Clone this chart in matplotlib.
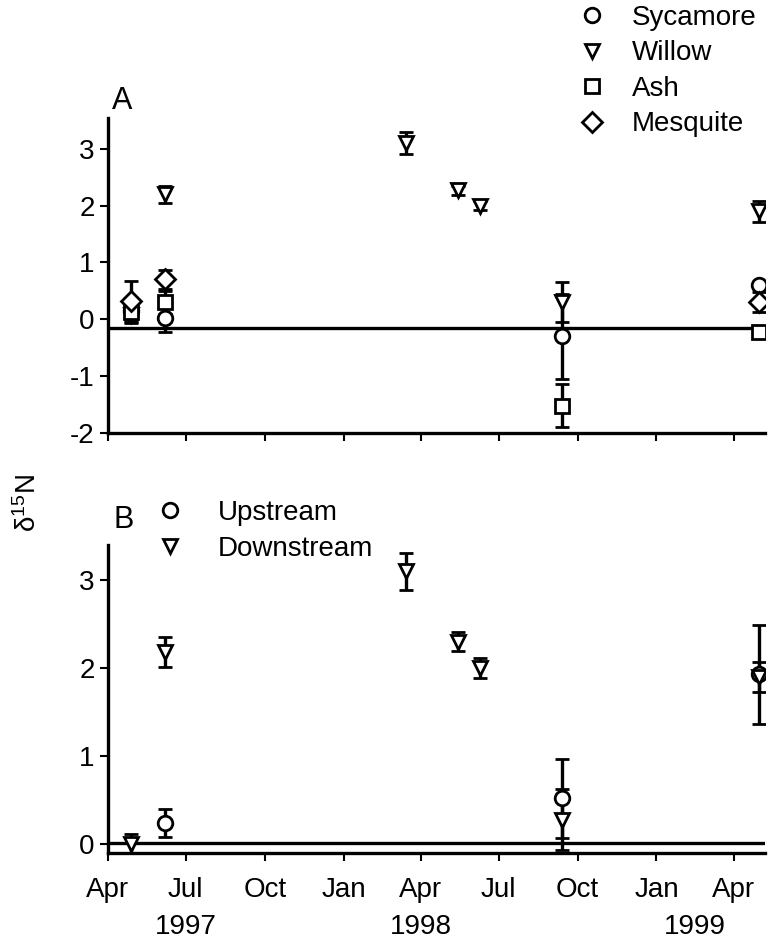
import numpy as np
import matplotlib
matplotlib.use('Agg')
import matplotlib.pyplot as plt
from matplotlib.lines import Line2D
from matplotlib.transforms import blended_transform_factory

plt.rcParams['font.family'] = ['Liberation Sans', 'DejaVu Sans']
plt.rcParams['mathtext.default'] = 'regular'
plt.rcParams['axes.unicode_minus'] = False

# sampling dates
dates = np.array(['1997-04-28', '1997-06-07', '1998-03-15', '1998-05-14',
                  '1998-06-09', '1998-09-13', '1999-04-30'], dtype='datetime64[D]')

# panel A: species
syc_idx = [0, 1, 5, 6]
syc_val = [0.15, 0.03, -0.30, 0.60]
syc_err = [0.20, 0.26, 0.75, 0.05]

wil_idx = [0, 1, 2, 3, 4, 5, 6]
wil_val = [0.08, 2.20, 3.10, 2.27, 2.00, 0.30, 1.90]
wil_err = [0.15, 0.15, 0.19, 0.08, 0.08, 0.35, 0.18]

ash_idx = [0, 1, 5, 6]
ash_val = [0.12, 0.30, -1.52, -0.22]
ash_err = [0.10, 0.20, 0.38, 0.10]

mes_idx = [0, 1, 6]
mes_val = [0.33, 0.70, 0.30]
mes_err = [0.35, 0.17, 0.18]

ref_a = -0.15

# panel B: stream position
up_idx = [1, 5, 6]
up_val = [0.24, 0.52, 1.93]
up_err = [0.16, 0.45, 0.56]

dn_idx = [0, 1, 2, 3, 4, 5, 6]
dn_val = [0.00, 2.18, 3.10, 2.30, 2.00, 0.28, 1.90]
dn_err = [0.12, 0.17, 0.21, 0.11, 0.11, 0.35, 0.17]

ref_b = 0.01

month_ticks = np.array(['1997-04-01', '1997-07-01', '1997-10-01', '1998-01-01', '1998-04-01',
                        '1998-07-01', '1998-10-01', '1999-01-01', '1999-04-01'], dtype='datetime64[D]')
month_labels = ['Apr', 'Jul', 'Oct', 'Jan', 'Apr', 'Jul', 'Oct', 'Jan', 'Apr']
year_pos = np.array(['1997-07-01', '1998-04-01', '1999-02-15'], dtype='datetime64[D]')
year_labels = ['1997', '1998', '1999']

xmin = np.datetime64('1997-04-01')
xmax = np.datetime64('1999-05-08')

fs = 20
lw = 2.4

fig = plt.figure(figsize=(7.7, 9.4), dpi=100)
axA = fig.add_axes([0.140, 0.5394, 0.854, 0.335])
axB = fig.add_axes([0.140, 0.0926, 0.854, 0.3277])


def series(ax, idx, val, err, marker):
    ax.errorbar(dates[idx], val, yerr=err, fmt=marker, color='black', mfc='white',
                mec='black', ms=10.5, mew=2, elinewidth=lw, capsize=5, capthick=lw)


series(axA, syc_idx, syc_val, syc_err, 'o')
series(axA, wil_idx, wil_val, wil_err, 'v')
series(axA, ash_idx, ash_val, ash_err, 's')
series(axA, mes_idx, mes_val, mes_err, 'D')
axA.axhline(ref_a, color='black', lw=lw, zorder=1)

series(axB, up_idx, up_val, up_err, 'o')
series(axB, dn_idx, dn_val, dn_err, 'v')
axB.axhline(ref_b, color='black', lw=lw, zorder=1)

axA.set_ylim(-2, 3.54)
axA.set_yticks([-2, -1, 0, 1, 2, 3])
axB.set_ylim(-0.1, 3.4)
axB.set_yticks([0, 1, 2, 3])

for ax in (axA, axB):
    ax.set_xlim(xmin, xmax)
    ax.set_xticks(month_ticks)
    ax.spines['top'].set_visible(False)
    ax.spines['right'].set_visible(False)
    ax.spines['left'].set_linewidth(lw)
    ax.spines['bottom'].set_linewidth(lw)
    ax.tick_params(direction='out', length=6, width=1.5, labelsize=fs)
axA.set_xticklabels([])
axB.set_xticklabels(month_labels)
axB.tick_params(axis='x', pad=11)

trans = blended_transform_factory(axB.transData, axB.transAxes)
for d, t in zip(year_pos, year_labels):
    axB.text(d, -0.24, t, transform=trans, ha='center', va='center', fontsize=fs)

fig.text(0.036, 0.465, 'δ$^{15}$N', rotation=90, ha='center', va='center', fontsize=fs)
fig.text(0.158, 0.893, 'A', ha='center', va='center', fontsize=22)
fig.text(0.160, 0.447, 'B', ha='center', va='center', fontsize=22)


def proxy(m):
    return Line2D([], [], marker=m, ls='none', color='black', mfc='white', mew=2, ms=10.5)


fig.legend([proxy('o'), proxy('v'), proxy('s'), proxy('D')],
           ['Sycamore', 'Willow', 'Ash', 'Mesquite'],
           loc='upper left', bbox_to_anchor=(0.7506, 0.9947), frameon=False, fontsize=fs,
           handletextpad=0.94, labelspacing=0.34, handlelength=1.0, borderaxespad=0,
           borderpad=0)
fig.legend([proxy('o'), proxy('v')], ['Upstream', 'Downstream'],
           loc='upper left', bbox_to_anchor=(0.2026, 0.468), frameon=False, fontsize=fs,
           handletextpad=1.22, labelspacing=0.34, handlelength=1.0, borderaxespad=0,
           borderpad=0)

fig.savefig('out.png', dpi=100)
